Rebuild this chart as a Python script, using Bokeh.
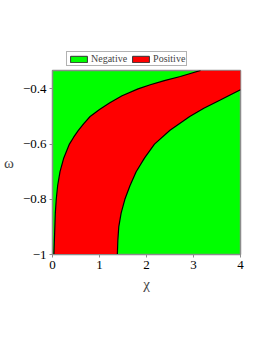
from bokeh.plotting import figure
from bokeh.layouts import column
from bokeh.models import Legend, LegendItem, FixedTicker, Range1d
from bokeh.embed import file_html
from bokeh.resources import INLINE

# boundary curves (chi, omega)
left_omega = [-1.0, -0.95, -0.9, -0.85, -0.8, -0.75, -0.7, -0.65, -0.6, -0.575, -0.55, -0.525,
              -0.5, -0.475, -0.45, -0.425, -0.4, -0.385, -0.37, -0.355, -0.3333]
left_chi = [0.03, 0.04, 0.05, 0.06, 0.08, 0.11, 0.16, 0.24, 0.36, 0.45, 0.55, 0.67,
            0.80, 1.00, 1.22, 1.48, 1.82, 2.08, 2.38, 2.72, 3.15]
right_omega = [-0.403, -0.42, -0.44, -0.47, -0.5, -0.55, -0.6, -0.65, -0.7, -0.75,
               -0.8, -0.85, -0.9, -0.95, -1.0]
right_chi = [4.0, 3.80, 3.57, 3.22, 2.92, 2.50, 2.17, 1.96, 1.78, 1.65,
             1.54, 1.46, 1.41, 1.39, 1.38]

chi_range = [0, 4]
omega_range = [-1.0, -1.0 / 3.0]
x_ticks = [0, 1, 2, 3, 4]
y_ticks = [-1.0, -0.8, -0.6, -0.4]
y_tick_labels = ["\u22121", "\u22120.8", "\u22120.6", "\u22120.4"]
legend_labels = ["Negative", "Positive"]
legend_colors = ["#00ff00", "#ff0000"]

FONT = "Liberation Serif"

# ---- main plot ----
p = figure(frame_width=188, frame_height=184, output_backend="svg", toolbar_location=None,
           x_range=Range1d(*chi_range), y_range=Range1d(*omega_range),
           min_border_left=52, min_border_top=4, min_border_right=14, min_border_bottom=54)
p.background_fill_color = legend_colors[0]
p.border_fill_color = "white"
p.outline_line_color = "#8c8c8c"
p.outline_line_width = 1.5
p.grid.visible = False

band_x = left_chi + [chi_range[1]] + right_chi
band_y = left_omega + [omega_range[1]] + right_omega
p.patch(band_x, band_y, fill_color=legend_colors[1], line_color=None)

p.line(left_chi, left_omega, line_color="black", line_width=1.2)
p.line(right_chi, right_omega, line_color="black", line_width=1.2)

for ax in (p.xaxis, p.yaxis):
    ax.axis_line_color = "#8c8c8c"
    ax.major_tick_line_color = "#8c8c8c"
    ax.major_tick_out = 3
    ax.major_tick_in = 0
    ax.minor_tick_line_color = None
    ax.major_label_text_font = FONT
    ax.major_label_text_font_size = "13px"
    ax.major_label_text_color = "black"
    ax.major_label_standoff = 3
    ax.axis_label_text_font = FONT
    ax.axis_label_text_font_size = "15px"
    ax.axis_label_text_font_style = "normal"

p.xaxis.ticker = FixedTicker(ticks=x_ticks)
p.yaxis.ticker = FixedTicker(ticks=y_ticks)
p.yaxis.major_label_overrides = {t: l for t, l in zip(y_ticks, y_tick_labels)}
p.xaxis.axis_label = "\u03c7"
p.xaxis.axis_label_standoff = 4
p.yaxis.axis_label = "\u03c9"
p.yaxis.axis_label_standoff = 6
try:
    p.yaxis[0].axis_label_orientation = "horizontal"
except Exception:
    p.yaxis.axis_label_standoff = 2

# ---- legend strip above the plot ----
lg = figure(width=254, height=66, output_backend="svg", toolbar_location=None,
            x_range=Range1d(0, 1), y_range=Range1d(0, 1),
            x_axis_type=None, y_axis_type=None, min_border=0)
lg.outline_line_color = None
lg.grid.visible = False
lg.background_fill_color = "white"
lg.border_fill_color = "white"
items = []
for lab, col in zip(legend_labels, legend_colors):
    # swatch renderers kept outside the (0, 1) view so only the legend shows them
    r = lg.quad(left=[2], right=[3], bottom=[2], top=[3], fill_color=col, line_color="#333333")
    items.append(LegendItem(label=lab, renderers=[r]))
legend = Legend(items=items, orientation="horizontal", location=(14, 0),
                label_text_font=FONT, label_text_font_size="10px",
                glyph_width=21, glyph_height=8, label_standoff=2, spacing=3,
                padding=1, margin=0, label_height=9,
                border_line_color="#666666", border_line_width=1.5,
                background_fill_color="white", background_fill_alpha=1.0)
lg.add_layout(legend)

layout = column(lg, p, spacing=0)
open("out.html", "w").write(file_html(layout, INLINE))
